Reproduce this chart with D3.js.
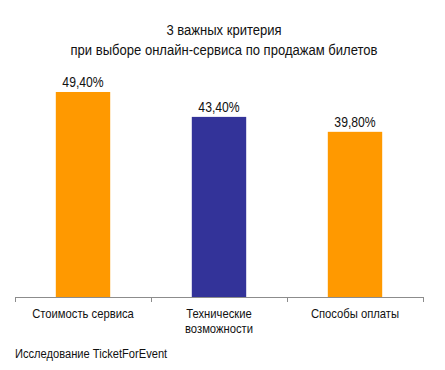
<!DOCTYPE html>
<html lang="ru">
<head>
<meta charset="UTF-8">
<title>3 важных критерия</title>
<script src="https://d3js.org/d3.v7.min.js"></script>
<style>
    body { margin: 0; background: #fff; }
    svg { font-family: "Liberation Sans Narrow", "Arial Narrow", "Liberation Sans", sans-serif; }
    .title { font-size: 15px; fill: #111; }
    .value { font-size: 14px; fill: #111; }
    .cat { font-size: 12.5px; fill: #111; }
    .note { font-size: 12.5px; fill: #111; }
</style>
</head>
<body>
<div id="chart"></div>
<script>
    const categories = ["Стоимость сервиса", "Технические возможности", "Способы оплаты"];
    const categoryLines = [["Стоимость сервиса"], ["Технические", "возможности"], ["Способы оплаты"]];
    const values = [49.4, 43.4, 39.8];
    const valueLabels = ["49,40%", "43,40%", "39,80%"];
    const barColors = ["#ff9900", "#333399", "#ff9900"];
    const titleLines = ["3 важных критерия", "при выборе онлайн-сервиса по продажам билетов"];
    const note = "Исследование TicketForEvent";

    const W = 445, H = 370;
    const left = 15, right = 423, base = 297;
    const narrow = 0.87; // the original uses a condensed face, squeeze the regular one

    const svg = d3.select("#chart").append("svg")
        .attr("width", W)
        .attr("height", H);

    const x = d3.scaleBand()
        .domain(categories)
        .range([left, right])
        .paddingInner(0.6)
        .paddingOuter(0.3);

    const y = d3.scaleLinear()
        .domain([0, 60])
        .range([base, 48]);

    const place = (px, py, s) => `translate(${px},${py}) scale(${s || narrow},1)`;

    // title
    svg.selectAll(".title")
        .data(titleLines)
        .enter().append("text")
        .attr("class", "title")
        .attr("transform", (d, i) => place(224, 35 + i * 20))
        .attr("text-anchor", "middle")
        .text(d => d);

    // bars
    svg.append("g")
        .selectAll("rect")
        .data(values)
        .enter().append("rect")
        .attr("x", (d, i) => x(categories[i]))
        .attr("y", d => y(d))
        .attr("width", x.bandwidth())
        .attr("height", d => base - y(d))
        .attr("fill", (d, i) => barColors[i]);

    svg.append("g")
        .selectAll(".value")
        .data(values)
        .enter().append("text")
        .attr("class", "value")
        .attr("transform", (d, i) => place(x(categories[i]) + x.bandwidth() / 2, y(d) - 5))
        .attr("text-anchor", "middle")
        .text((d, i) => valueLabels[i]);

    // axis line with separators between categories
    const step = x.step();
    const ticks = d3.range(categories.length + 1).map(i => left + i * step);
    const axis = svg.append("g").attr("stroke", "#8c8c8c").attr("stroke-width", 1);
    axis.append("line")
        .attr("x1", left).attr("x2", right)
        .attr("y1", base + 0.5).attr("y2", base + 0.5);
    axis.selectAll(".sep")
        .data(ticks)
        .enter().append("line")
        .attr("x1", d => Math.round(d) + 0.5).attr("x2", d => Math.round(d) + 0.5)
        .attr("y1", base).attr("y2", base + 5);

    // category labels
    const cat = svg.append("g")
        .selectAll(".cat")
        .data(categories)
        .enter().append("text")
        .attr("class", "cat")
        .attr("text-anchor", "middle")
        .attr("transform", d => place(x(d) + x.bandwidth() / 2, 318, 0.9));
    cat.selectAll("tspan")
        .data((d, i) => categoryLines[i])
        .enter().append("tspan")
        .attr("x", 0)
        .attr("dy", (d, i) => i === 0 ? 0 : 15)
        .text(d => d);

    svg.append("text")
        .attr("class", "note")
        .attr("transform", place(15, 358, 0.89))
        .text(note);
</script>
</body>
</html>
